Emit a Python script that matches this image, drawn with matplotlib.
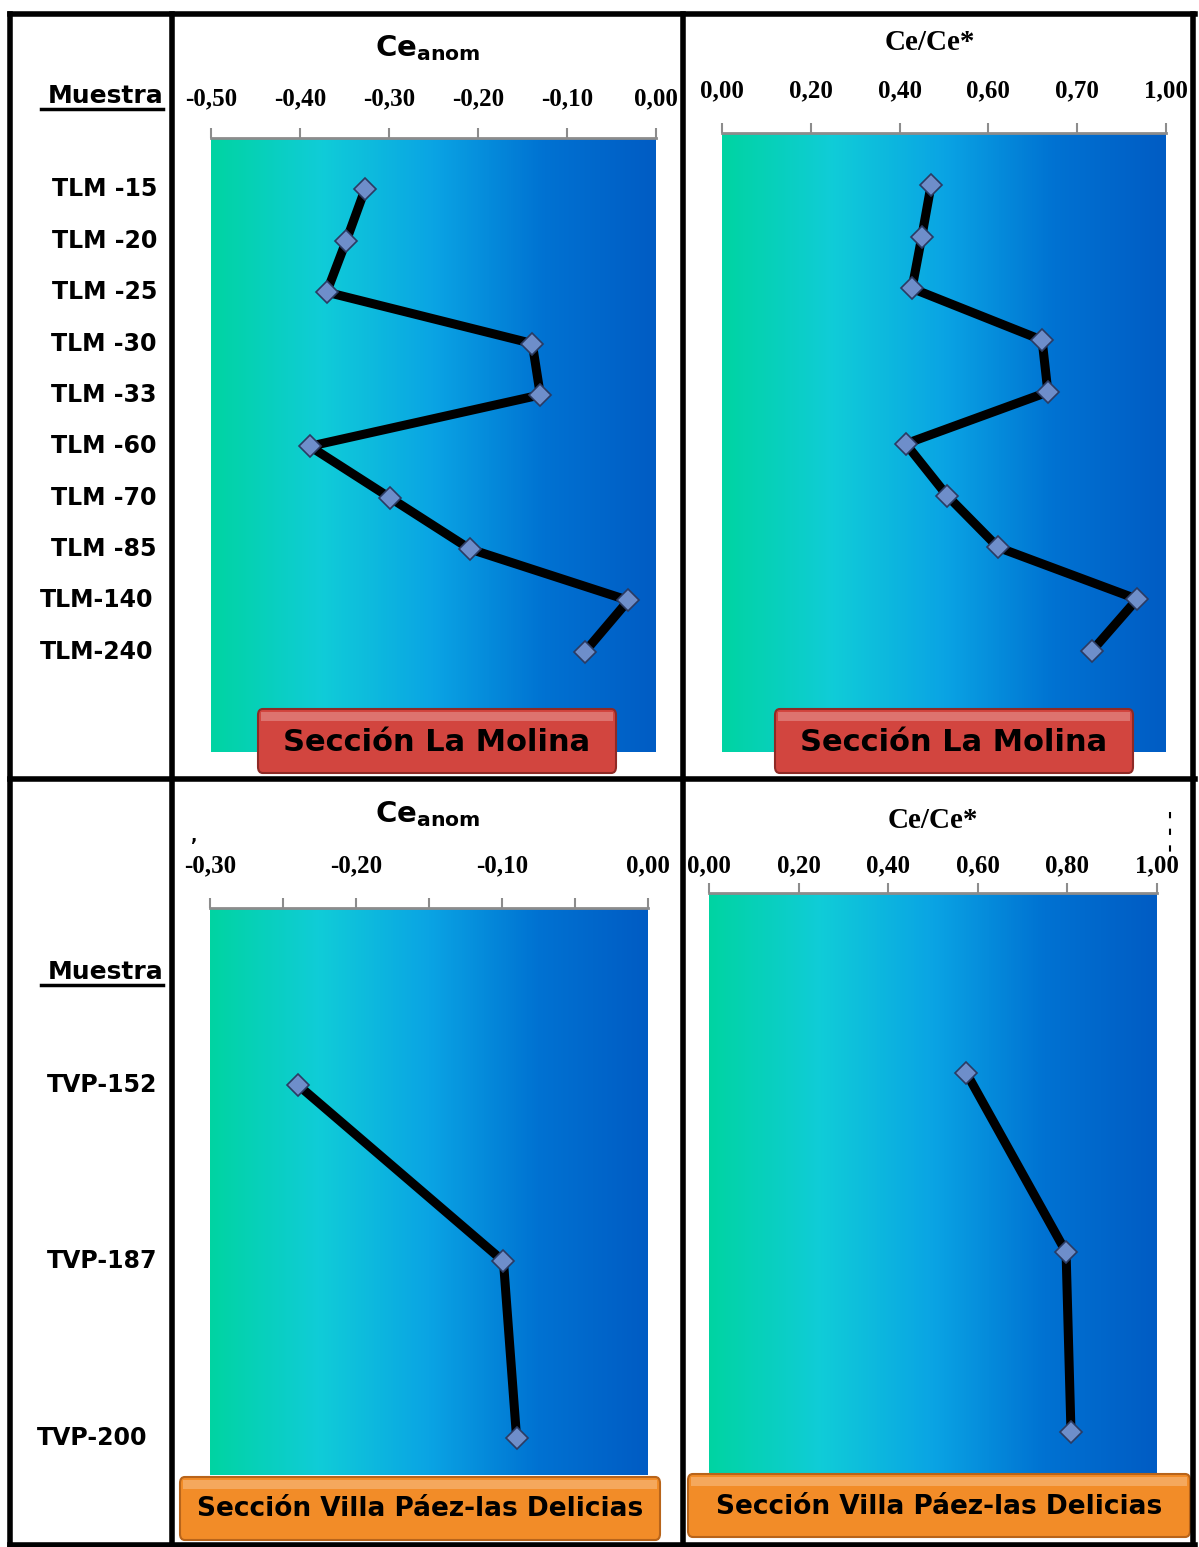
import numpy as np
import matplotlib.pyplot as plt
from matplotlib.colors import LinearSegmentedColormap
from matplotlib.patches import FancyBboxPatch
from matplotlib.lines import Line2D
import matplotlib.transforms as mtransforms

# Sección La Molina
molina_samples = ["TLM -15", "TLM -20", "TLM -25", "TLM -30", "TLM -33",
                  "TLM -60", "TLM -70", "TLM -85", "TLM-140", "TLM-240"]
molina_ce_anom = [-0.327, -0.348, -0.370, -0.139, -0.130,
                  -0.389, -0.299, -0.209, -0.031, -0.080]
molina_ce_ratio = [0.471, 0.450, 0.428, 0.721, 0.734,
                   0.414, 0.507, 0.622, 0.935, 0.833]

# Sección Villa Páez-las Delicias
delicias_samples = ["TVP-152", "TVP-187", "TVP-200"]
delicias_ce_anom = [-0.240, -0.099, -0.090]
delicias_ce_ratio = [0.574, 0.797, 0.808]

anom_ticks_top = [-0.5, -0.4, -0.3, -0.2, -0.1, 0.0]
anom_labels_top = ["-0,50", "-0,40", "-0,30", "-0,20", "-0,10", "0,00"]
ratio_ticks = [0.0, 0.2, 0.4, 0.6, 0.8, 1.0]
ratio_labels_top = ["0,00", "0,20", "0,40", "0,60", "0,70", "1,00"]
ratio_labels_bottom = ["0,00", "0,20", "0,40", "0,60", "0,80", "1,00"]
anom_ticks_bottom = [-0.30, -0.25, -0.20, -0.15, -0.10, -0.05, 0.0]
anom_labels_bottom = ["-0,30", "", "-0,20", "", "-0,10", "", "0,00"]

W, H = 1199, 1547
fig = plt.figure(figsize=(W / 100, H / 100), dpi=100)


def px_rect(x0, y0, x1, y1):
    return [x0 / W, 1 - y1 / H, (x1 - x0) / W, (y1 - y0) / H]


def fx(x):
    return x / W


def fy(y):
    return 1 - y / H


grad = LinearSegmentedColormap.from_list(
    "sea", ["#00D4A2", "#10CCD8", "#0AA4E4", "#0072D2", "#005CC4"])
tick_font = dict(family="Liberation Serif", weight="bold", size=18)


def profile(rect, xs, labels_ticks, tick_labels, xlim, ylim, pad):
    ax = fig.add_axes(px_rect(*rect))
    ax.imshow(np.linspace(0, 1, 256)[None, :], cmap=grad, aspect="auto",
              extent=[xlim[0], xlim[1], ylim[0], ylim[1]], zorder=0)
    ys = np.arange(1, len(xs) + 1)
    ax.plot(xs, ys, color="black", lw=6.5, solid_capstyle="round",
            solid_joinstyle="round", zorder=2)
    ax.plot(xs, ys, ls="none", marker="D", ms=11, mfc="#6E8ECA",
            mec="#2B3B63", mew=1.2, zorder=3)
    ax.set_xlim(*xlim)
    ax.set_ylim(*ylim)
    ax.xaxis.tick_top()
    ax.set_xticks(labels_ticks)
    ax.set_xticklabels(tick_labels, fontdict=tick_font)
    ax.tick_params(axis="x", direction="out", length=7, width=1.5,
                   color="#8C8C8C", pad=pad)
    ax.set_yticks([])
    for side in ["bottom", "left", "right"]:
        ax.spines[side].set_visible(False)
    ax.spines["top"].set_color("#8C8C8C")
    ax.spines["top"].set_linewidth(2)
    return ax


ax1 = profile((211, 138, 656, 752), molina_ce_anom, anom_ticks_top,
              anom_labels_top, (-0.5, 0.0), (11.95, 0.0), 13)
ax2 = profile((722, 133, 1166, 752), molina_ce_ratio, ratio_ticks,
              ratio_labels_top, (0.0, 1.0), (11.95, 0.0), 15)
ax3 = profile((210, 908, 648, 1475), delicias_ce_anom, anom_ticks_bottom,
              anom_labels_bottom, (-0.30, 0.0), (3.21, 0.0), 15)
ax4 = profile((709, 893, 1157, 1473), delicias_ce_ratio, ratio_ticks,
              ratio_labels_bottom, (0.0, 1.0), (3.23, 0.0), 4)

# column headers
for x, y in [(428, 48), (428, 814)]:
    fig.text(fx(x), fy(y), r"Ce$_{\mathbf{anom}}$", ha="center", va="center",
             fontsize=21, fontweight="bold", family="DejaVu Sans")
for x, y in [(930, 42), (933, 820)]:
    fig.text(fx(x), fy(y), "Ce/Ce*", ha="center", va="center",
             fontsize=21, fontweight="bold", family="Liberation Serif")

# sample names in the left column
for ax, names, right_x in [(ax1, molina_samples, 157), (ax3, delicias_samples, 157)]:
    trans = mtransforms.blended_transform_factory(fig.transFigure, ax.transData)
    for i, name in enumerate(names, start=1):
        xr = right_x - (4 if name.endswith("40") else 0) - (10 if name == "TVP-200" else 0)
        ax.text(fx(xr), i, name, transform=trans, ha="right", va="center",
                fontsize=17, fontweight="heavy", family="DejaVu Sans", clip_on=False)

for y in [96, 972]:
    fig.text(fx(163), fy(y), "Muestra", ha="right", va="center",
             fontsize=18, fontweight="heavy", family="DejaVu Sans")
    fig.add_artist(Line2D([fx(41), fx(163)], [fy(y + 13), fy(y + 13)],
                          color="black", lw=2.5))

fig.text(fx(193), fy(836), ",", ha="center", va="center", fontsize=12,
         fontweight="bold")
fig.add_artist(Line2D([fx(1170), fx(1170)], [fy(812), fy(862)], color="black",
                      lw=1.5, ls=(0, (3, 5))))


# section name banners
def banner(x0, y0, x1, y1, label, face, edge, size):
    box = FancyBboxPatch((fx(x0), fy(y1)), fx(x1) - fx(x0), fy(y0) - fy(y1),
                         boxstyle="round,pad=0,rounding_size=0.004",
                         transform=fig.transFigure, facecolor=face,
                         edgecolor=edge, lw=1.5, zorder=5)
    fig.add_artist(box)
    fig.add_artist(FancyBboxPatch((fx(x0 + 3), fy(y0 + 12)), fx(x1 - 3) - fx(x0 + 3),
                                  fy(y0 + 3) - fy(y0 + 12),
                                  boxstyle="square,pad=0", transform=fig.transFigure,
                                  facecolor="white", alpha=0.25, lw=0, zorder=6))
    fig.text(fx((x0 + x1) / 2), fy((y0 + y1) / 2 + 1), label, ha="center",
             va="center", fontsize=size, fontweight="heavy", family="DejaVu Sans",
             zorder=7)


banner(258, 709, 616, 773, "Sección La Molina", "#D2453F", "#8E2A26", 22)
banner(775, 709, 1133, 773, "Sección La Molina", "#D2453F", "#8E2A26", 22)
banner(180, 1477, 660, 1540, "Sección Villa Páez-las Delicias", "#F28C28", "#B8641A", 19)
banner(688, 1474, 1190, 1537, "Sección Villa Páez-las Delicias", "#F28C28", "#B8641A", 19)

# table grid
grid = [((10, 14), (1195, 14)), ((10, 779), (1195, 779)), ((10, 1545), (1195, 1545)),
        ((10, 14), (10, 1545)), ((172, 14), (172, 1545)),
        ((683, 14), (683, 1545)), ((1193, 14), (1193, 1545))]
for (xa, ya), (xb, yb) in grid:
    fig.add_artist(Line2D([fx(xa), fx(xb)], [fy(ya), fy(yb)], color="black",
                          lw=4, solid_capstyle="projecting", zorder=10))

fig.savefig("out.png", dpi=100)
